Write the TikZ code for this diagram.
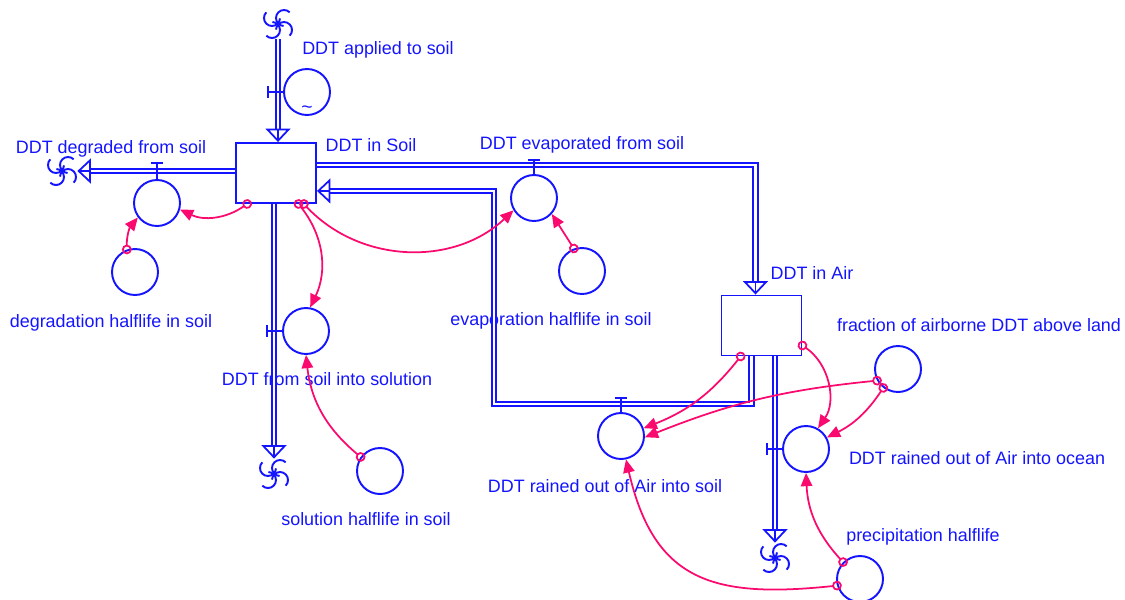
\documentclass[tikz,border=0pt]{standalone}
\usepackage{fontspec}
\setmainfont{Liberation Sans}
\usetikzlibrary{arrows.meta,calc}
\definecolor{vblue}{RGB}{20,20,255}
\definecolor{vpink}{RGB}{250,10,110}

\begin{document}
\begin{tikzpicture}[x=0.02cm, y=-0.02cm,
  every node/.style={font=\fontsize{10.2}{12}\selectfont, text=vblue},
  stockbox/.style={rectangle, draw=vblue, line width=1.1pt, minimum width=1.6cm, minimum height=1.2cm, inner sep=0pt},
  aux/.style={circle, draw=vblue, line width=1.1pt, minimum size=0.92cm, inner sep=0pt},
  sink/.style={circle, minimum size=0.6cm, inner sep=0pt},
  cloudline/.style={draw=vblue, line width=1.1pt},
  lbl/.style={inner sep=0pt, text height=7.3pt, text depth=0pt},
  pipe/.style={draw=vblue, double, line width=1pt, double distance=1.5pt, shorten >=0.27cm},
  pipetip/.style={draw=vblue, line width=1pt, -{Triangle[open, width=0.5cm, length=0.27cm]}},
  valve/.style={draw=vblue, line width=1.1pt},
  link/.style={draw=vpink, line width=1pt, {Circle[open, length=5.5pt, width=5.5pt]}-{Triangle[length=7.5pt, width=6.5pt]}, shorten <=-2.75pt}]
  \useasboundingbox (0,0) rectangle (1125,599);

  \node (srcA) [sink] at (278,24) {};
  \node (applied) [aux] at (307,92) {};
  \node (appliedmark) [inner sep=0pt, font=\fontsize{11}{11}\selectfont] at (307,110) {\textasciitilde};
  \node (soil) [stockbox] at (276,173) {};
  \node (degcloud) [sink] at (62,171) {};
  \node (degrade) [aux] at (157,203) {};
  \node (deghalf) [aux] at (135,272) {};
  \node (solflow) [aux] at (306,331) {};
  \node (solcloud) [sink] at (274,474) {};
  \node (solhalf) [aux] at (380,471) {};
  \node (evap) [aux] at (534,198) {};
  \node (evaphalf) [aux] at (582,271) {};
  \node (air) [stockbox] at (761.5,325.5) {};
  \node (rainsoil) [aux] at (621,436) {};
  \node (ocean) [aux] at (806,449) {};
  \node (aircloud) [sink] at (775,558) {};
  \node (frac) [aux] at (898,369) {};
  \node (precip) [aux] at (860,579) {};

  \node (lblApplied) [lbl] at (378,48) {DDT applied to soil};
  \node (lblSoil) [lbl] at (371,145) {DDT in Soil};
  \node (lblDegrade) [lbl] at (111,147) {DDT degraded from soil};
  \node (lblDegHalf) [lbl] at (111,321) {degradation halflife in soil};
  \node (lblSolFlow) [lbl] at (327,379) {DDT from soil into solution};
  \node (lblSolHalf) [lbl] at (366,519) {solution halflife in soil};
  \node (lblEvap) [lbl] at (582,143) {DDT evaporated from soil};
  \node (lblEvapHalf) [lbl] at (551,319) {evaporation halflife in soil};
  \node (lblAir) [lbl] at (812,273) {DDT in Air};
  \node (lblFrac) [lbl] at (979,325) {fraction of airborne DDT above land};
  \node (lblOcean) [lbl] at (977,458) {DDT rained out of Air into ocean};
  \node (lblRainSoil) [lbl] at (605,486) {DDT rained out of Air into soil};
  \node (lblPrecip) [lbl] at (923,535) {precipitation halflife};

  \foreach \c in {srcA,degcloud,solcloud,aircloud}
    \foreach \k [evaluate=\k as \ks using \k-93.7] in {45,135,225,315}
      \draw[cloudline] ($(\c)+(\k:0.17cm)+(\ks:0.16cm)$) arc[start angle=\ks, delta angle=222, radius=0.16cm];

  \draw[pipe] (srcA) -- (soil.north -| srcA);
  \draw[pipetip] ($(soil.north -| srcA)+(0,-1)$) -- (soil.north -| srcA);
  \draw[pipe] (soil.west |- degcloud) -- (degcloud.east);
  \draw[pipetip] ($(degcloud.east)+(1,0)$) -- (degcloud.east);
  \draw[pipe] (soil.south -| solcloud) -- (solcloud.north);
  \draw[pipetip] ($(solcloud.north)+(0,-1)$) -- (solcloud.north);
  \draw[pipe] ($(soil.north east)+(0,23)$) -| ($(air.north)+(-6,0)$);
  \draw[pipetip] ($(air.north)+(-6,-1)$) -- ($(air.north)+(-6,0)$);
  \draw[pipe] ($(air.south)+(-10,0)$) |- (494,404) |- ($(soil.south east)+(0,-13)$);
  \draw[pipetip] ($(soil.south east)+(1,-13)$) -- ($(soil.south east)+(0,-13)$);
  \draw[pipe] (air.south -| aircloud) -- (aircloud.north);
  \draw[pipetip] ($(aircloud.north)+(0,-1)$) -- (aircloud.north);

  \draw[valve] (applied.west) -- ++(-15,0) ++(0,-6) -- ++(0,12);
  \draw[valve] (degrade.north) -- ++(0,-16) ++(-6,0) -- ++(12,0);
  \draw[valve] (solflow.west) -- ++(-15,0) ++(0,-6) -- ++(0,12);
  \draw[valve] (evap.north) -- ++(0,-14) ++(-6,0) -- ++(12,0);
  \draw[valve] (rainsoil.north) -- ++(0,-14) ++(-6,0) -- ++(12,0);
  \draw[valve] (ocean.west) -- ++(-15,0) ++(0,-6) -- ++(0,12);

  \draw[link] (soil.-133) to[bend left=30] (degrade.-16);
  \draw[link] (deghalf.110) to[bend left=20] (degrade.217);
  \draw[link] (soil.-54) to[bend left=32] (solflow.80);
  \draw[link] (soil.-48) to[bend right=45] (evap.211);
  \draw[link] (evaphalf.110) -- (evap.-42);
  \draw[link] (solhalf.144) to[bend left=22] (solflow.-90);
  \draw[link] (air.-124) to[bend left=15] (rainsoil.19);
  \draw[link] (air.-26) to[bend left=45] (ocean.60);
  \draw[link] (frac.209) to[bend right=8] (rainsoil.-3);
  \draw[link] (frac.232) to[bend left=15] (ocean.29);
  \draw[link] (precip.135) to[bend left=20] (ocean.-90);
  \draw[link] (precip.196) to[out=186, in=-77, looseness=1.3] (rainsoil.-78);
\end{tikzpicture}
\end{document}
